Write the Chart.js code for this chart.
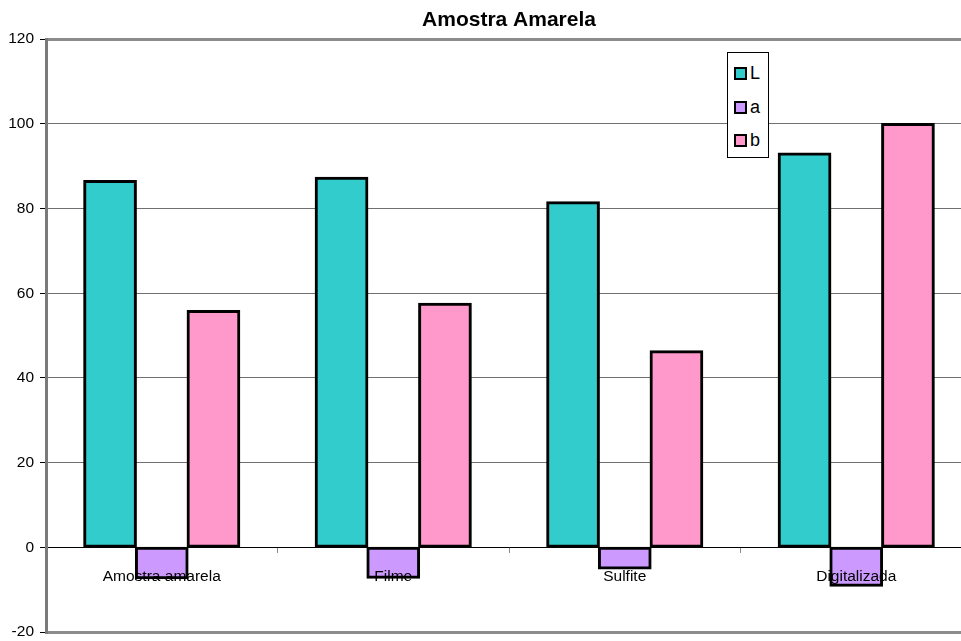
<!DOCTYPE html>
<html>
<head>
<meta charset="utf-8">
<script src="https://cdn.jsdelivr.net/npm/chart.js@4"></script>
<style>
    html, body { margin: 0; padding: 0; background: #fff; overflow: hidden; }
    #wrap { position: relative; width: 990px; height: 641px; }
    #legend {
        position: absolute; left: 727px; top: 52px; width: 42px; height: 106px;
        border: 1px solid #000; background: #fff;
        font-family: 'Liberation Sans', Arial, sans-serif; font-size: 18px; color: #000;
        padding-top: 6px; box-sizing: border-box;
    }
    #legend .item { height: 33.5px; line-height: 28px; white-space: nowrap; }
    #legend .sw {
        display: inline-block; width: 9px; height: 9px; border: 2px solid #000;
        margin-left: 6px; margin-right: 3px; vertical-align: -1px;
    }
</style>
</head>
<body>
<div id="wrap">
    <canvas id="chart" width="990" height="641"></canvas>
    <div id="legend"></div>
</div>
<script>
const categories = ['Amostra amarela', 'Filme', 'Sulfite', 'Digitalizada'];
const valuesL = [86.5, 87.3, 81.5, 93.0];
const valuesA = [-7.3, -7.2, -5.0, -9.1];
const valuesB = [55.8, 57.5, 46.3, 100.0];
const seriesNames = ['L', 'a', 'b'];
const seriesColors = ['#33CCCC', '#CC99FF', '#FF99CC'];
const yTicks = [-20, 0, 20, 40, 60, 80, 100, 120];

const FONT = "'Liberation Sans', Arial, sans-serif";

const chart = new Chart(document.getElementById('chart'), {
    type: 'bar',
    data: {
        labels: categories,
        datasets: [valuesL, valuesA, valuesB].map((vals, i) => ({
            label: seriesNames[i],
            data: vals,
            backgroundColor: seriesColors[i],
            borderColor: '#000',
            borderWidth: 3,
            borderSkipped: false,
            inflateAmount: 1,
            barPercentage: 1,
            categoryPercentage: 0.67
        }))
    },
    options: {
        responsive: false,
        animation: false,
        layout: { padding: { left: 0, right: 18, top: 0, bottom: 9 } },
        plugins: {
            legend: { display: false },
            tooltip: { enabled: false },
            title: {
                display: true,
                text: 'Amostra Amarela',
                fullSize: false,
                color: '#000',
                font: { family: FONT, size: 21, weight: 'bold' },
                padding: { top: 8, bottom: 6 }
            }
        },
        scales: {
            x: {
                position: { y: 0 },
                offset: true,
                afterFit: s => { s.paddingTop = 0; s.paddingBottom = 0; },
                grid: {
                    display: true,
                    drawOnChartArea: false,
                    drawTicks: true,
                    tickLength: 5,
                    tickColor: '#888',
                    offset: true
                },
                border: { display: true, color: '#000', width: 1 },
                ticks: {
                    z: 1,
                    color: '#000',
                    font: { family: FONT, size: 15.5 },
                    padding: 15,
                    maxRotation: 0,
                    autoSkip: false
                }
            },
            y: {
                min: -20,
                max: 120,
                afterBuildTicks: s => { s.ticks = yTicks.map(v => ({ value: v })); },
                afterFit: s => { s.width = 46; s.paddingTop = 0; s.paddingBottom = 0; },
                grid: {
                    color: ctx => (ctx.tick && (ctx.tick.value === 120 || ctx.tick.value === -20)) ? '#8c8c8c' : '#707070',
                    lineWidth: ctx => (ctx.tick && (ctx.tick.value === 120 || ctx.tick.value === -20)) ? 3 : 1,
                    tickLength: 6,
                    tickColor: '#000',
                    tickWidth: 1
                },
                border: { display: true, color: '#7a7a7a', width: 3 },
                ticks: {
                    color: '#000',
                    font: { family: FONT, size: 15.5 },
                    padding: 6
                }
            }
        }
    }
});

const legendEl = document.getElementById('legend');
chart.data.datasets.forEach(ds => {
    const item = document.createElement('div');
    item.className = 'item';
    const sw = document.createElement('span');
    sw.className = 'sw';
    sw.style.background = ds.backgroundColor;
    item.appendChild(sw);
    item.appendChild(document.createTextNode(ds.label));
    legendEl.appendChild(item);
});
</script>
</body>
</html>
